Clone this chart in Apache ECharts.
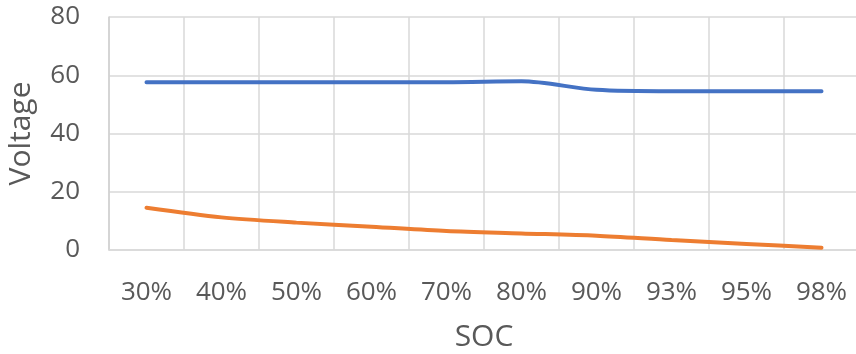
<!DOCTYPE html>
<html>
<head>
<meta charset="utf-8">
<script src="https://cdn.jsdelivr.net/npm/echarts@6/dist/echarts.min.js"></script>
<style>html,body{margin:0;padding:0;background:#fff}#c{width:856px;height:354px}</style>
</head>
<body>
<div id="c"></div>
<script>
const categories = ['30%','40%','50%','60%','70%','80%','90%','93%','95%','98%'];
const seriesBlue = [57.6,57.6,57.6,57.6,57.6,57.9,55.0,54.5,54.5,54.5];
const seriesOrange = [14.5,11.2,9.4,8.0,6.5,5.7,4.9,3.4,2.1,0.8];
const yTicks = {min:0,max:80,interval:20};

const txt = '#595959';
const font = '"Open Sans", sans-serif';
const chart = echarts.init(document.getElementById('c'));
chart.setOption({
  animation:false,
  grid:{left:109, top:17, width:750, height:233, containLabel:false, outerBoundsMode:'none'},
  xAxis:{
    type:'category', data:categories, boundaryGap:true,
    name:'SOC', nameLocation:'middle', nameGap:72,
    nameTextStyle:{color:txt, fontSize:30, fontFamily:font},
    axisTick:{show:false},
    axisLine:{lineStyle:{color:'#d9d9d9', width:1.5}},
    axisLabel:{color:txt, fontSize:26, fontFamily:font, margin:30, interval:0},
    splitLine:{show:true, lineStyle:{color:'#d9d9d9', width:1.5}}
  },
  yAxis:{
    type:'value', min:yTicks.min, max:yTicks.max, interval:yTicks.interval,
    name:'Voltage', nameLocation:'middle', nameGap:73, nameRotate:90,
    nameTextStyle:{color:txt, fontSize:30, fontFamily:font},
    axisLine:{show:true, lineStyle:{color:'#d0d0d0', width:1.5}},
    axisTick:{show:false},
    axisLabel:{color:txt, fontSize:26, fontFamily:font, margin:29},
    splitLine:{show:true, lineStyle:{color:'#d9d9d9', width:1.5}}
  },
  series:[
    {type:'line', data:seriesBlue, smooth:0.3, symbol:'none', lineStyle:{color:'#4472C4', width:4, cap:'round'}},
    {type:'line', data:seriesOrange, smooth:0.3, symbol:'none', lineStyle:{color:'#ED7D31', width:4, cap:'round'}}
  ]
});
</script>
</body>
</html>
